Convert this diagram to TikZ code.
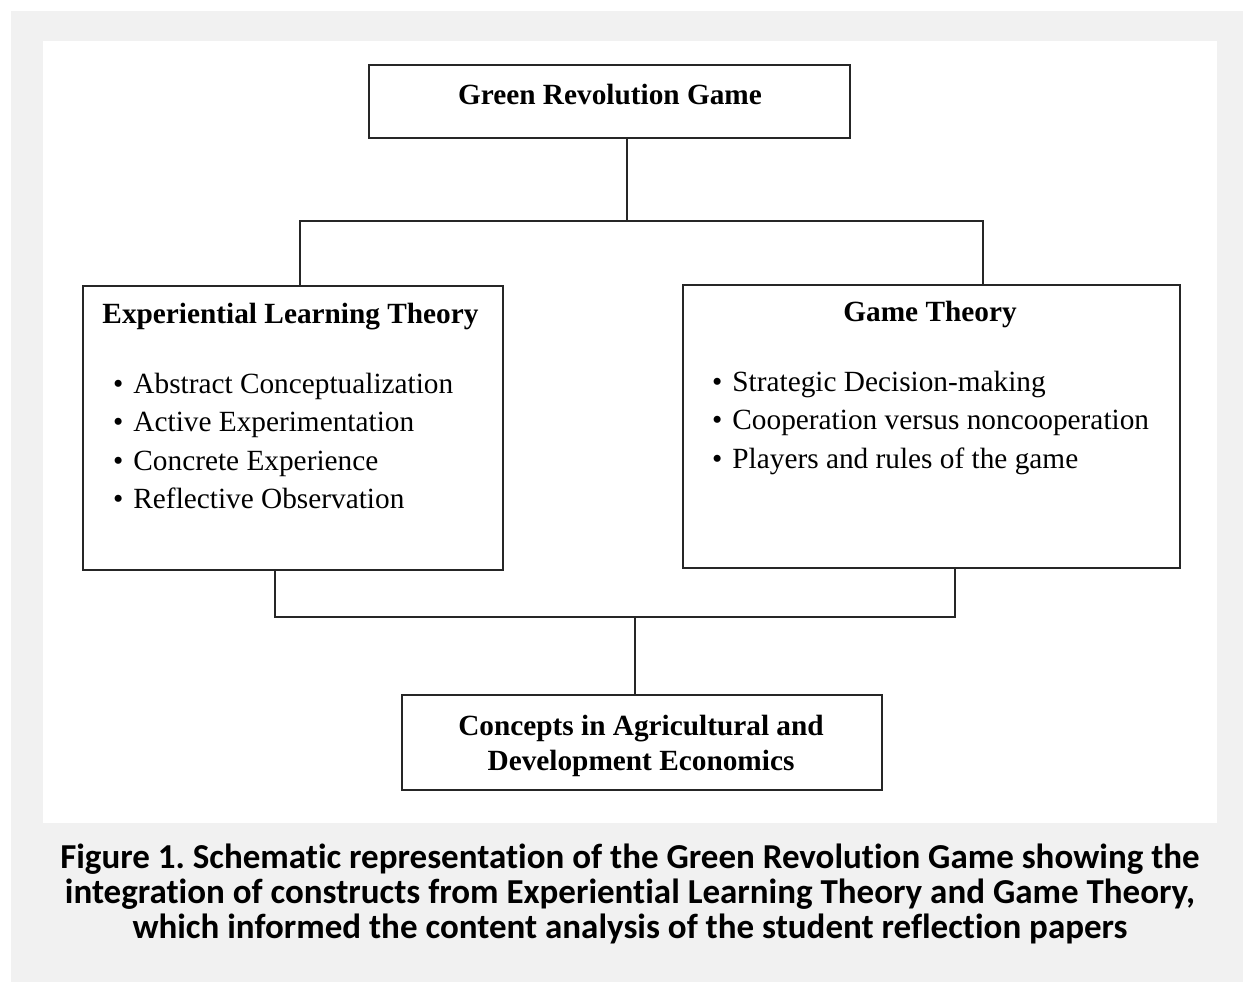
\documentclass[tikz,border=0pt]{standalone}
\usepackage{fontspec}
\setmainfont{Liberation Serif}
\newfontfamily\capfont[Ligatures=NoCommon]{Carlito}
\definecolor{pagegray}{RGB}{241,241,241}
\definecolor{linegray}{RGB}{38,38,38}
\tikzset{
  box/.style={draw=linegray, line width=1.6pt, fill=white, inner sep=0pt},
  link/.style={draw=linegray, line width=1.6pt},
  head/.style={font=\fontsize{29.3}{35}\selectfont\bfseries, inner sep=0pt},
  item/.style={font=\fontsize{29.3}{38.5}\selectfont, inner sep=0pt, anchor=base west}
}
\frenchspacing
\begin{document}
\begin{tikzpicture}[x=1pt, y=-1pt]
\useasboundingbox (0,0) rectangle (1243,982);
% background
\fill [white] (0,0) rectangle (1243,982);
\fill [pagegray] (11,11) rectangle (1243,982);
\fill [white] (43,41) rectangle (1217,823);
% boxes
\node [box, minimum width=481, minimum height=73] (grg) at (609.5,101.5) {};
\node [box, minimum width=420, minimum height=284] (elt) at (293,428) {};
\node [box, minimum width=497, minimum height=283] (gt) at (931.5,426.5) {};
\node [box, minimum width=480, minimum height=95] (cade) at (642,742.5) {};
% titles
\node [head, anchor=base] (grgtitle) at (610,104) {Green Revolution Game};
\node [head, anchor=base] (elttitle) at (290.5,323) {Experiential Learning Theory};
\node [head, anchor=base] (gttitle) at (930,321) {Game Theory};
\node [head, anchor=base] (cadetop) at (641,735) {Concepts in Agricultural and};
\node [head, anchor=base] (cadebot) at (641,770) {Development Economics};
% bullet items
\foreach \txt [count=\i] in {Abstract Conceptualization, Active Experimentation,
    Concrete Experience, Reflective Observation}
  \node [item] (eltitem\i) at (113,354.5+38.5*\i) {\textbullet\hspace{10pt}\txt};
\foreach \txt [count=\i] in {Strategic Decision-making, Cooperation versus noncooperation,
    Players and rules of the game}
  \node [item] (gtitem\i) at (712,352.5+38.5*\i) {\textbullet\hspace{10pt}\txt};
% connectors
\coordinate (topjoin) at (627,221);
\coordinate (botjoin) at (635,617);
\draw [link] (grg.south -| topjoin) -- (topjoin);
\draw [link] ([xshift=7pt]elt.north) |- (topjoin) -| ([xshift=51.5pt]gt.north);
\draw [link] ([xshift=-18pt]elt.south) |- (botjoin) -| ([xshift=23.5pt]gt.south);
\draw [link] (botjoin) -- (cade.north -| botjoin);
% caption
\node [font=\capfont\fontsize{35}{35}\selectfont\bfseries, align=center, inner sep=0pt]
  (caption) at (630,894) {Figure 1. Schematic representation of the Green Revolution Game showing the\\
  integration of constructs from Experiential Learning Theory and Game Theory,\\
  which informed the content analysis of the student reflection papers};
\end{tikzpicture}
\end{document}
